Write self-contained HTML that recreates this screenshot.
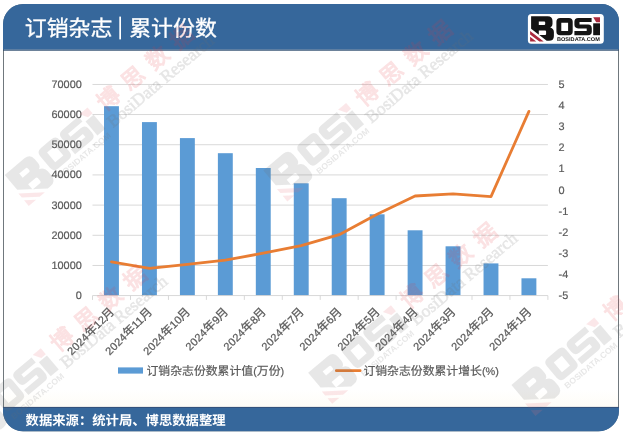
<!DOCTYPE html>
<html lang="zh"><head><meta charset="utf-8"><title>订销杂志 | 累计份数</title>
<style>html,body{margin:0;padding:0;background:#fff;}body{width:623px;height:434px;overflow:hidden;font-family:"Liberation Sans","Noto Sans CJK SC",sans-serif;}svg{display:block;will-change:transform;}</style></head>
<body>
<svg width="623" height="434" viewBox="0 0 623 434" font-family="'Liberation Sans','Noto Sans CJK SC',sans-serif" text-rendering="geometricPrecision" role="img" aria-label="订销杂志 | 累计份数"><defs><clipPath id="fc"><path d="M23,4.1 H602 A17,17 0 0 1 619,21.1 V410.8 A20.5,20.5 0 0 1 598.5,431.3 H23 A20,20 0 0 1 3,411.3 V24.1 A20,20 0 0 1 23,4.1 Z"/></clipPath></defs>
<path d="M23,4.1 H602 A17,17 0 0 1 619,21.1 V410.8 A20.5,20.5 0 0 1 598.5,431.3 H23 A20,20 0 0 1 3,411.3 V24.1 A20,20 0 0 1 23,4.1 Z" fill="#fff"/>
<defs><linearGradient id="cg" x1="0" y1="0" x2="0" y2="1"><stop offset="0" stop-color="#FEFCF6" stop-opacity="0"/><stop offset="1" stop-color="#FEFCF6" stop-opacity="1"/></linearGradient></defs><rect x="4" y="390" width="614" height="17" fill="url(#cg)"/>
<path d="M23,4.6 H602 A16.5,16.5 0 0 1 618.5,21.1 V410.8 A20,20 0 0 1 598.5,430.8 H23 A19.5,19.5 0 0 1 3.5,411.3 V24.1 A19.5,19.5 0 0 1 23,4.6 Z" fill="none" stroke="#70787D" stroke-width="1"/>
<g clip-path="url(#fc)"><rect x="0" y="0" width="623" height="49.7" fill="#36679B"/><rect x="0" y="49.7" width="623" height="1" fill="#2F4D70"/><rect x="0" y="407" width="623" height="40" fill="#36679B"/><rect x="0" y="406.9" width="623" height="1" fill="#34507A"/></g>
<g aria-label="订销杂志 | 累计份数" stroke="#fff" stroke-width="0.3"><text x="24.8" y="35.6" font-size="21.9" fill="#fff" textLength="87.6">订销杂志</text>
<rect x="119.3" y="16.6" width="1.7" height="22.8" fill="#fff" stroke="none"/>
<text x="129.2" y="35.6" font-size="21.9" fill="#fff" textLength="87.6">累计份数</text></g>
<g aria-label="数据来源：统计局、博思数据整理"><text x="25.6" y="425" font-size="13.33" font-weight="bold" fill="#fff" textLength="199.95">数据来源：统计局、博思数据整理</text></g>
<rect x="527.9" y="13.9" width="75.9" height="29.9" rx="3.5" fill="#fff"/>
<g transform="translate(530.9,40.5)"><path fill="#141414" fill-rule="evenodd" d="M0.2,-24.3 H16.8 Q21.6,-24.3 21.6,-19.6 V-16.6 Q21.6,-13.6 19.4,-12.9 Q23,-12 23,-8.2 V-4.6 Q23,0.3 18,0.3 H15.8 L0.2,-11.8 ZM7.9,-18.9 V-15.5 H13.3 Q14.3,-15.5 14.3,-16.5 V-17.9 Q14.3,-18.9 13.3,-18.9 ZM7.9,-10 V-5.5 H14.2 Q15.2,-5.5 15.2,-6.5 V-9 Q15.2,-10 14.2,-10 Z"/><path fill="#AB2A3D" d="M-0.8,-9.4 L12.8,1 H8.4 L-0.8,-6 Z M-0.8,-3.7 L5.4,1 H-0.8 Z"/><path fill="#141414" fill-rule="evenodd" d="M29.3,-22.6 H38 Q41.8,-22.6 41.8,-18.8 V-9.1 Q41.8,-5.3 38,-5.3 H29.3 Q25.5,-5.3 25.5,-9.1 V-18.8 Q25.5,-22.6 29.3,-22.6 ZM30.4,-17.8 V-9.6 H37.2 V-17.8 Z"/><path fill="#141414" d="M47.3,-22.6 H60.7 V-18.4 H48.6 V-15.9 H57.1 Q60.9,-15.9 60.9,-12.1 V-9.1 Q60.9,-5.3 57.1,-5.3 H43.5 V-9.6 H55.8 V-12.1 H47.3 Q43.5,-12.1 43.5,-15.9 V-18.8 Q43.5,-22.6 47.3,-22.6 Z"/><rect x="62.3" y="-17.2" width="6.8" height="11.9" fill="#141414"/><path fill="#AB2A3D" d="M62.3,-23.3 H69.1 V-18.3 H65.3 Z"/><text x="26.1" y="0.9" font-size="5.4" font-weight="bold" textLength="42.8" lengthAdjust="spacingAndGlyphs" fill="#141414">BOSIDATA.COM</text></g>
<rect x="92.5" y="264.98" width="455.4" height="0.9" fill="#D4D4D4"/>
<rect x="92.5" y="234.81" width="455.4" height="0.9" fill="#D4D4D4"/>
<rect x="92.5" y="204.64" width="455.4" height="0.9" fill="#D4D4D4"/>
<rect x="92.5" y="174.47" width="455.4" height="0.9" fill="#D4D4D4"/>
<rect x="92.5" y="144.3" width="455.4" height="0.9" fill="#D4D4D4"/>
<rect x="92.5" y="114.13" width="455.4" height="0.9" fill="#D4D4D4"/>
<rect x="92.5" y="83.96" width="455.4" height="0.9" fill="#D4D4D4"/>
<rect x="104.02" y="106.2" width="14.9" height="189.4" fill="#5B9BD5"/>
<rect x="141.98" y="122.1" width="14.9" height="173.5" fill="#5B9BD5"/>
<rect x="179.93" y="138.1" width="14.9" height="157.5" fill="#5B9BD5"/>
<rect x="217.88" y="153.2" width="14.9" height="142.4" fill="#5B9BD5"/>
<rect x="255.82" y="168" width="14.9" height="127.6" fill="#5B9BD5"/>
<rect x="293.78" y="183.3" width="14.9" height="112.3" fill="#5B9BD5"/>
<rect x="331.73" y="198.2" width="14.9" height="97.4" fill="#5B9BD5"/>
<rect x="369.68" y="214.3" width="14.9" height="81.3" fill="#5B9BD5"/>
<rect x="407.63" y="230.3" width="14.9" height="65.3" fill="#5B9BD5"/>
<rect x="445.58" y="246.3" width="14.9" height="49.3" fill="#5B9BD5"/>
<rect x="483.53" y="263.4" width="14.9" height="32.2" fill="#5B9BD5"/>
<rect x="521.47" y="278.3" width="14.9" height="17.3" fill="#5B9BD5"/>
<rect x="92.5" y="295.15" width="455.4" height="0.9" fill="#D4D4D4"/>
<rect x="92.05" y="295.6" width="0.9" height="4.3" fill="#D4D4D4"/>
<rect x="130" y="295.6" width="0.9" height="4.3" fill="#D4D4D4"/>
<rect x="167.95" y="295.6" width="0.9" height="4.3" fill="#D4D4D4"/>
<rect x="205.9" y="295.6" width="0.9" height="4.3" fill="#D4D4D4"/>
<rect x="243.85" y="295.6" width="0.9" height="4.3" fill="#D4D4D4"/>
<rect x="281.8" y="295.6" width="0.9" height="4.3" fill="#D4D4D4"/>
<rect x="319.75" y="295.6" width="0.9" height="4.3" fill="#D4D4D4"/>
<rect x="357.7" y="295.6" width="0.9" height="4.3" fill="#D4D4D4"/>
<rect x="395.65" y="295.6" width="0.9" height="4.3" fill="#D4D4D4"/>
<rect x="433.6" y="295.6" width="0.9" height="4.3" fill="#D4D4D4"/>
<rect x="471.55" y="295.6" width="0.9" height="4.3" fill="#D4D4D4"/>
<rect x="509.5" y="295.6" width="0.9" height="4.3" fill="#D4D4D4"/>
<rect x="547.45" y="295.6" width="0.9" height="4.3" fill="#D4D4D4"/>
<polyline points="111.47,261.8 149.43,268.4 187.38,264.3 225.33,260.1 263.27,253.2 301.23,245.7 339.18,234.7 377.12,214.3 415.08,196 453.03,193.8 490.98,196.6 528.92,111.4" fill="none" stroke="#E87D33" stroke-width="2.8" stroke-linejoin="round" stroke-linecap="round"/>
<g font-size="10.9" fill="#595959" opacity="0.99" stroke="#595959" stroke-width="0.2">
<text x="81.8" y="299.1" text-anchor="end">0</text>
<text x="81.8" y="268.93" text-anchor="end">10000</text>
<text x="81.8" y="238.76" text-anchor="end">20000</text>
<text x="81.8" y="208.59" text-anchor="end">30000</text>
<text x="81.8" y="178.42" text-anchor="end">40000</text>
<text x="81.8" y="148.25" text-anchor="end">50000</text>
<text x="81.8" y="118.08" text-anchor="end">60000</text>
<text x="81.8" y="87.91" text-anchor="end">70000</text>
<text x="558.6" y="87.91">5</text>
<text x="558.6" y="109.03">4</text>
<text x="558.6" y="130.15">3</text>
<text x="558.6" y="151.27">2</text>
<text x="558.6" y="172.39">1</text>
<text x="558.6" y="193.51">0</text>
<text x="558.6" y="214.62">-1</text>
<text x="558.6" y="235.74">-2</text>
<text x="558.6" y="256.86">-3</text>
<text x="558.6" y="277.98">-4</text>
<text x="558.6" y="299.1">-5</text>
</g>
<g transform="translate(115.47,312) rotate(-45)" aria-label="2024年12月" opacity="0.99" stroke="#595959" stroke-width="0.25"><text x="-61.87" y="0" font-size="10.9" letter-spacing="0.3" fill="#595959">2024</text><text x="-36.4" y="0" font-size="11.85" fill="#595959">年</text><text x="-24.57" y="0" font-size="10.9" letter-spacing="0.3" fill="#595959">12</text><text x="-12.6" y="0" font-size="11.85" fill="#595959">月</text></g>
<g transform="translate(153.43,312) rotate(-45)" aria-label="2024年11月" opacity="0.99" stroke="#595959" stroke-width="0.25"><text x="-61.87" y="0" font-size="10.9" letter-spacing="0.3" fill="#595959">2024</text><text x="-36.4" y="0" font-size="11.85" fill="#595959">年</text><text x="-24.57" y="0" font-size="10.9" letter-spacing="0.3" fill="#595959">11</text><text x="-12.6" y="0" font-size="11.85" fill="#595959">月</text></g>
<g transform="translate(191.38,312) rotate(-45)" aria-label="2024年10月" opacity="0.99" stroke="#595959" stroke-width="0.25"><text x="-61.87" y="0" font-size="10.9" letter-spacing="0.3" fill="#595959">2024</text><text x="-36.4" y="0" font-size="11.85" fill="#595959">年</text><text x="-24.57" y="0" font-size="10.9" letter-spacing="0.3" fill="#595959">10</text><text x="-12.6" y="0" font-size="11.85" fill="#595959">月</text></g>
<g transform="translate(229.33,312) rotate(-45)" aria-label="2024年9月" opacity="0.99" stroke="#595959" stroke-width="0.25"><text x="-55.51" y="0" font-size="10.9" letter-spacing="0.3" fill="#595959">2024</text><text x="-30" y="0" font-size="11.85" fill="#595959">年</text><text x="-18.21" y="0" font-size="10.9" letter-spacing="0.3" fill="#595959">9</text><text x="-12.6" y="0" font-size="11.85" fill="#595959">月</text></g>
<g transform="translate(267.27,312) rotate(-45)" aria-label="2024年8月" opacity="0.99" stroke="#595959" stroke-width="0.25"><text x="-55.51" y="0" font-size="10.9" letter-spacing="0.3" fill="#595959">2024</text><text x="-30" y="0" font-size="11.85" fill="#595959">年</text><text x="-18.21" y="0" font-size="10.9" letter-spacing="0.3" fill="#595959">8</text><text x="-12.6" y="0" font-size="11.85" fill="#595959">月</text></g>
<g transform="translate(305.23,312) rotate(-45)" aria-label="2024年7月" opacity="0.99" stroke="#595959" stroke-width="0.25"><text x="-55.51" y="0" font-size="10.9" letter-spacing="0.3" fill="#595959">2024</text><text x="-30" y="0" font-size="11.85" fill="#595959">年</text><text x="-18.21" y="0" font-size="10.9" letter-spacing="0.3" fill="#595959">7</text><text x="-12.6" y="0" font-size="11.85" fill="#595959">月</text></g>
<g transform="translate(343.18,312) rotate(-45)" aria-label="2024年6月" opacity="0.99" stroke="#595959" stroke-width="0.25"><text x="-55.51" y="0" font-size="10.9" letter-spacing="0.3" fill="#595959">2024</text><text x="-30" y="0" font-size="11.85" fill="#595959">年</text><text x="-18.21" y="0" font-size="10.9" letter-spacing="0.3" fill="#595959">6</text><text x="-12.6" y="0" font-size="11.85" fill="#595959">月</text></g>
<g transform="translate(381.12,312) rotate(-45)" aria-label="2024年5月" opacity="0.99" stroke="#595959" stroke-width="0.25"><text x="-55.51" y="0" font-size="10.9" letter-spacing="0.3" fill="#595959">2024</text><text x="-30" y="0" font-size="11.85" fill="#595959">年</text><text x="-18.21" y="0" font-size="10.9" letter-spacing="0.3" fill="#595959">5</text><text x="-12.6" y="0" font-size="11.85" fill="#595959">月</text></g>
<g transform="translate(419.08,312) rotate(-45)" aria-label="2024年4月" opacity="0.99" stroke="#595959" stroke-width="0.25"><text x="-55.51" y="0" font-size="10.9" letter-spacing="0.3" fill="#595959">2024</text><text x="-30" y="0" font-size="11.85" fill="#595959">年</text><text x="-18.21" y="0" font-size="10.9" letter-spacing="0.3" fill="#595959">4</text><text x="-12.6" y="0" font-size="11.85" fill="#595959">月</text></g>
<g transform="translate(457.03,312) rotate(-45)" aria-label="2024年3月" opacity="0.99" stroke="#595959" stroke-width="0.25"><text x="-55.51" y="0" font-size="10.9" letter-spacing="0.3" fill="#595959">2024</text><text x="-30" y="0" font-size="11.85" fill="#595959">年</text><text x="-18.21" y="0" font-size="10.9" letter-spacing="0.3" fill="#595959">3</text><text x="-12.6" y="0" font-size="11.85" fill="#595959">月</text></g>
<g transform="translate(494.98,312) rotate(-45)" aria-label="2024年2月" opacity="0.99" stroke="#595959" stroke-width="0.25"><text x="-55.51" y="0" font-size="10.9" letter-spacing="0.3" fill="#595959">2024</text><text x="-30" y="0" font-size="11.85" fill="#595959">年</text><text x="-18.21" y="0" font-size="10.9" letter-spacing="0.3" fill="#595959">2</text><text x="-12.6" y="0" font-size="11.85" fill="#595959">月</text></g>
<g transform="translate(532.92,312) rotate(-45)" aria-label="2024年1月" opacity="0.99" stroke="#595959" stroke-width="0.25"><text x="-55.51" y="0" font-size="10.9" letter-spacing="0.3" fill="#595959">2024</text><text x="-30" y="0" font-size="11.85" fill="#595959">年</text><text x="-18.21" y="0" font-size="10.9" letter-spacing="0.3" fill="#595959">1</text><text x="-12.6" y="0" font-size="11.85" fill="#595959">月</text></g>
<rect x="118" y="367.4" width="25" height="6.2" fill="#5B9BD5"/>
<g aria-label="订销杂志份数累计值(万份)" opacity="0.99" stroke="#595959" stroke-width="0.2"><text x="146.5" y="374.9" font-size="11.85" fill="#595959" textLength="106.65">订销杂志份数累计值</text><text x="253.15" y="374.9" font-size="10.9" fill="#595959">(</text><text x="256.78" y="374.9" font-size="11.85" fill="#595959" textLength="23.7">万份</text><text x="280.48" y="374.9" font-size="10.9" fill="#595959">)</text></g>
<rect x="335" y="369.3" width="26.5" height="2.6" rx="1.2" fill="#E87D33"/>
<g aria-label="订销杂志份数累计增长(%)" opacity="0.99" stroke="#595959" stroke-width="0.2"><text x="363.4" y="374.9" font-size="11.85" fill="#595959" textLength="118.5">订销杂志份数累计增长</text><text x="481.9" y="374.9" font-size="10.9" fill="#595959">(%)</text></g>
<defs><g id="wm"><g transform="translate(1.3,-0.3) scale(1.55)" opacity="0.16"><path fill="#6e6e6e" fill-rule="evenodd" d="M0.2,-24.3 H16.8 Q21.6,-24.3 21.6,-19.6 V-16.6 Q21.6,-13.6 19.4,-12.9 Q23,-12 23,-8.2 V-4.6 Q23,0.3 18,0.3 H15.8 L0.2,-11.8 ZM7.9,-18.9 V-15.5 H13.3 Q14.3,-15.5 14.3,-16.5 V-17.9 Q14.3,-18.9 13.3,-18.9 ZM7.9,-10 V-5.5 H14.2 Q15.2,-5.5 15.2,-6.5 V-9 Q15.2,-10 14.2,-10 Z"/><path fill="#e8707a" d="M-0.8,-9.4 L12.8,1 H8.4 L-0.8,-6 Z M-0.8,-3.7 L5.4,1 H-0.8 Z"/><path fill="#6e6e6e" fill-rule="evenodd" d="M29.3,-22.6 H38 Q41.8,-22.6 41.8,-18.8 V-9.1 Q41.8,-5.3 38,-5.3 H29.3 Q25.5,-5.3 25.5,-9.1 V-18.8 Q25.5,-22.6 29.3,-22.6 ZM30.4,-17.8 V-9.6 H37.2 V-17.8 Z"/><path fill="#6e6e6e" d="M47.3,-22.6 H60.7 V-18.4 H48.6 V-15.9 H57.1 Q60.9,-15.9 60.9,-12.1 V-9.1 Q60.9,-5.3 57.1,-5.3 H43.5 V-9.6 H55.8 V-12.1 H47.3 Q43.5,-12.1 43.5,-15.9 V-18.8 Q43.5,-22.6 47.3,-22.6 Z"/><rect x="62.3" y="-17.2" width="6.8" height="11.9" fill="#6e6e6e"/><path fill="#e8707a" d="M62.3,-23.3 H69.1 V-18.3 H65.3 Z"/><text x="26.1" y="0.9" font-size="5.4" font-weight="bold" textLength="42.8" lengthAdjust="spacingAndGlyphs" fill="#6e6e6e">BOSIDATA.COM</text></g><text x="119" y="-21.7" font-size="22.5" fill="#e5343e" stroke="#e5343e" stroke-width="1.1" stroke-linejoin="round" opacity="0.14" textLength="118">博思数据</text><text x="114.5" y="-4.2" font-family="'Liberation Serif',serif" font-size="17.5" fill="#6e6e6e" stroke="#6e6e6e" stroke-width="0.6" opacity="0.17">BosiData Research</text></g></defs>
<use href="#wm" transform="translate(27.9,205) rotate(-40)"/>
<use href="#wm" transform="translate(286.5,200.5) rotate(-40)"/>
<use href="#wm" transform="translate(-18.8,445.8) rotate(-40)"/>
<use href="#wm" transform="translate(534.6,415) rotate(-40)"/>
<use href="#wm" transform="translate(331.3,402.9) rotate(-40)"/></svg>
</body></html>
